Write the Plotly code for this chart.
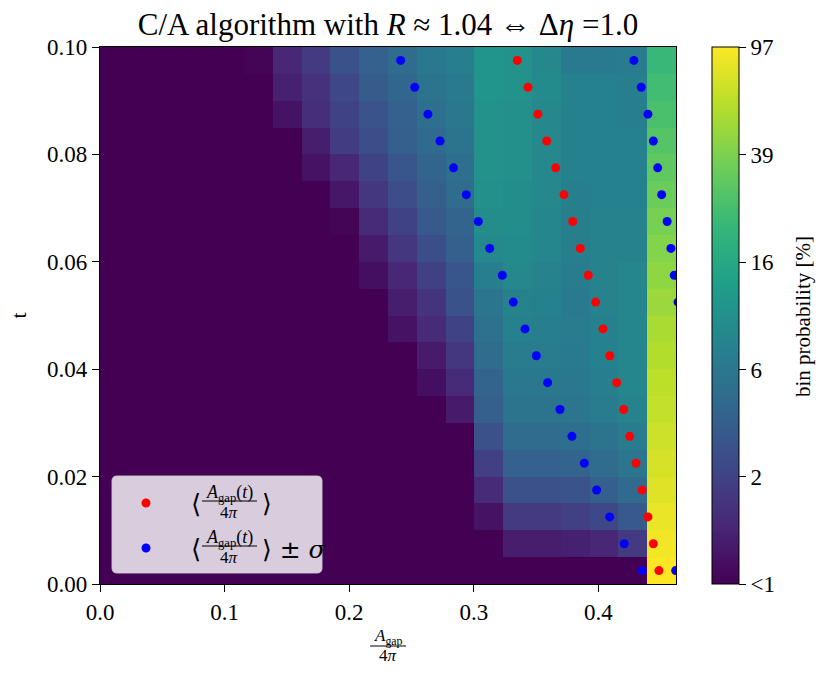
import math
import plotly.graph_objects as go

# ---------------- data ----------------
# area axis: 20 bins from 0 to x_max ; time axis: 20 bins of 0.005
x_max = 0.4623
n_xbins = 20
t_step = 0.005
n_tbins = 20

# bin probability in percent, one list per time row (t bin), 20 area bins each
# 0 means "< 1 %"
p_t00 = [0, 0, 0, 0, 0, 0, 0, 0, 0, 0, 0, 0, 0, 0, 0, 0, 0, 0, 0, 97.0]
p_t01 = [0, 0, 0, 0, 0, 0, 0, 0, 0, 0, 0, 0, 0, 0, 1.44, 1.44, 1.51, 1.65, 2.18, 90.5]
p_t02 = [0, 0, 0, 0, 0, 0, 0, 0, 0, 0, 0, 0, 0, 1.26, 2.18, 2.18, 2.39, 2.73, 3.60, 84.5]
p_t03 = [0, 0, 0, 0, 0, 0, 0, 0, 0, 0, 0, 0, 0, 1.73, 3.14, 3.14, 3.28, 3.95, 4.74, 78.6]
p_t04 = [0, 0, 0, 0, 0, 0, 0, 0, 0, 0, 0, 0, 0, 2.39, 4.13, 4.13, 4.32, 4.96, 5.95, 73.4]
p_t05 = [0, 0, 0, 0, 0, 0, 0, 0, 0, 0, 0, 0, 0, 3.14, 4.96, 4.96, 5.19, 5.69, 6.83, 68.8]
p_t06 = [0, 0, 0, 0, 0, 0, 0, 0, 0, 0, 0, 0, 1.38, 3.95, 5.69, 5.69, 5.95, 6.83, 7.83, 64.2]
p_t07 = [0, 0, 0, 0, 0, 0, 0, 0, 0, 0, 0, 1.20, 1.73, 4.32, 6.23, 6.23, 6.23, 7.15, 8.20, 61.3]
p_t08 = [0, 0, 0, 0, 0, 0, 0, 0, 0, 0, 0, 1.38, 2.08, 4.96, 6.83, 6.83, 6.52, 7.48, 8.20, 57.3]
p_t09 = [0, 0, 0, 0, 0, 0, 0, 0, 0, 0, 1.26, 1.73, 2.50, 5.43, 7.48, 7.15, 6.83, 7.48, 8.20, 53.4]
p_t10 = [0, 0, 0, 0, 0, 0, 0, 0, 0, 0, 1.44, 1.99, 3.14, 5.95, 7.83, 7.48, 6.52, 7.83, 8.20, 48.9]
p_t11 = [0, 0, 0, 0, 0, 0, 0, 0, 0, 1.20, 1.65, 2.39, 3.44, 7.15, 8.58, 7.83, 6.83, 7.83, 8.20, 44.6]
p_t12 = [0, 0, 0, 0, 0, 0, 0, 0, 0, 1.38, 2.08, 3.00, 3.95, 8.58, 8.98, 8.20, 7.15, 7.83, 7.83, 40.7]
p_t13 = [0, 0, 0, 0, 0, 0, 0, 0, 1.05, 1.73, 2.50, 3.60, 4.32, 9.40, 9.40, 8.20, 7.15, 7.83, 7.83, 37.1]
p_t14 = [0, 0, 0, 0, 0, 0, 0, 0, 1.32, 2.08, 3.00, 3.95, 4.96, 9.84, 9.40, 8.58, 7.15, 7.48, 7.48, 33.9]
p_t15 = [0, 0, 0, 0, 0, 0, 0, 1.26, 1.65, 2.50, 3.44, 4.32, 5.19, 10.3, 9.84, 8.58, 7.48, 7.48, 7.48, 30.9]
p_t16 = [0, 0, 0, 0, 0, 0, 0, 1.44, 2.28, 3.00, 3.95, 4.74, 5.69, 10.3, 9.84, 8.58, 7.48, 7.48, 7.48, 28.2]
p_t17 = [0, 0, 0, 0, 0, 0, 1.26, 1.81, 2.50, 3.28, 4.13, 5.19, 6.23, 10.3, 9.84, 8.58, 7.48, 7.48, 7.15, 25.7]
p_t18 = [0, 0, 0, 0, 0, 0, 1.51, 1.90, 2.73, 3.77, 4.52, 5.69, 6.52, 10.8, 10.3, 8.98, 7.48, 7.48, 7.15, 23.5]
p_t19 = [0, 0, 0, 0, 0, 1.05, 1.65, 2.18, 3.14, 4.13, 4.96, 6.23, 7.15, 10.8, 10.3, 8.58, 6.52, 6.52, 6.83, 21.4]

# mean gap area and its standard deviation at every time-bin centre
t_centers = [0.0025, 0.0075, 0.0125, 0.0175, 0.0225, 0.0275, 0.0325, 0.0375, 0.0425, 0.0475,
             0.0525, 0.0575, 0.0625, 0.0675, 0.0725, 0.0775, 0.0825, 0.0875, 0.0925, 0.0975]
mean_area = [0.4486, 0.4441, 0.4398, 0.4352, 0.4302, 0.4251, 0.4203, 0.4147, 0.4091, 0.4037,
             0.3978, 0.3919, 0.3855, 0.3794, 0.3724, 0.3657, 0.3585, 0.3515, 0.3435, 0.3349]
sigma_area = [0.0134, 0.0233, 0.0307, 0.0366, 0.0415, 0.0463, 0.0511, 0.0554, 0.0589, 0.0626,
              0.0661, 0.0690, 0.0727, 0.0758, 0.0784, 0.0819, 0.0856, 0.0883, 0.0909, 0.0936]

# colour bar ticks (percent) and their labels
cb_tick_pct = [1.0, 2.49, 6.21, 15.5, 38.8, 97.0]
cb_tick_text = ["<1", "2", "6", "16", "39", "97"]
p_max = 97.0

x_tick_vals = [0.0, 0.1, 0.2, 0.3, 0.4]
x_tick_text = ["0.0", "0.1", "0.2", "0.3", "0.4"]
y_tick_vals = [0.0, 0.02, 0.04, 0.06, 0.08, 0.10]
y_tick_text = ["0.00", "0.02", "0.04", "0.06", "0.08", "0.10"]

# ---------------- figure ----------------
rows = [p_t00, p_t01, p_t02, p_t03, p_t04, p_t05, p_t06, p_t07, p_t08, p_t09,
        p_t10, p_t11, p_t12, p_t13, p_t14, p_t15, p_t16, p_t17, p_t18, p_t19]
z = [[math.log10(max(v, 1.0)) for v in row] for row in rows]
x_edges = [i * x_max / n_xbins for i in range(n_xbins + 1)]
t_edges = [j * t_step for j in range(n_tbins + 1)]

W, H = 830, 674
L, R, T, B = 100, 676, 47, 584
FONT = "Liberation Serif"


def px2x(px):
    return (px - L) / (R - L)


def px2y(py):
    return (B - py) / (B - T)


fig = go.Figure()
fig.add_trace(go.Heatmap(
    x=x_edges, y=t_edges, z=z,
    zmin=0, zmax=math.log10(p_max),
    colorscale="Viridis",
    hoverinfo="skip",
    colorbar=dict(
        thickness=27, thicknessmode="pixels",
        len=1, lenmode="fraction",
        x=px2x(712), xanchor="left", xpad=0,
        y=0.5, yanchor="middle", ypad=0,
        outlinewidth=1, outlinecolor="black",
        ticks="outside", ticklen=7, tickwidth=1, tickcolor="black",
        tickvals=[math.log10(v) for v in cb_tick_pct],
        ticktext=cb_tick_text,
        tickfont=dict(family=FONT, size=23, color="black"),
    ),
))

fig.add_trace(go.Scatter(
    x=mean_area, y=t_centers, mode="markers",
    marker=dict(color="red", size=9, line=dict(width=0)),
    cliponaxis=True, showlegend=False, name="mean",
))
blue_x = [m - s for m, s in zip(mean_area, sigma_area)] + [m + s for m, s in zip(mean_area, sigma_area)]
blue_y = t_centers + t_centers
fig.add_trace(go.Scatter(
    x=blue_x, y=blue_y, mode="markers",
    marker=dict(color="blue", size=9, line=dict(width=0)),
    cliponaxis=True, showlegend=False, name="mean ± sigma",
))

axis_common = dict(
    showline=True, linecolor="black", linewidth=1.2, mirror=True,
    ticks="outside", ticklen=7, tickwidth=1.2, tickcolor="black",
    showgrid=False, zeroline=False,
    tickfont=dict(family=FONT, size=23, color="black"),
)
fig.update_xaxes(range=[0, x_max], tickvals=x_tick_vals, ticktext=x_tick_text, **axis_common)
fig.update_yaxes(range=[0, 0.1], tickvals=y_tick_vals, ticktext=y_tick_text,
                 title=dict(text="t", font=dict(family=FONT, size=22, color="black"), standoff=14),
                 **axis_common)

shapes = []
annotations = []

# colour-bar title
annotations.append(dict(xref="paper", yref="paper", x=px2x(803), y=px2y(317),
                        text="bin probability [%]", textangle=-90, showarrow=False,
                        font=dict(family=FONT, size=21, color="black"),
                        xanchor="center", yanchor="middle"))

# x-axis title as a stacked fraction
annotations.append(dict(xref="paper", yref="paper", x=px2x(388), y=px2y(637),
                        text="<i>A</i><sub>gap</sub>", showarrow=False,
                        font=dict(family=FONT, size=17, color="black"),
                        xanchor="center", yanchor="middle"))
shapes.append(dict(type="line", xref="paper", yref="paper",
                   x0=px2x(370), x1=px2x(406), y0=px2y(646), y1=px2y(646),
                   line=dict(color="black", width=1)))
annotations.append(dict(xref="paper", yref="paper", x=px2x(388), y=px2y(655),
                        text="4<i>π</i>", showarrow=False,
                        font=dict(family=FONT, size=17, color="black"),
                        xanchor="center", yanchor="middle"))

# legend box (rounded)
bx0, bx1, by0, by1, rr = 112, 322, 476, 573, 5
path = (f"M {px2x(bx0 + rr)},{px2y(by0)} L {px2x(bx1 - rr)},{px2y(by0)} "
        f"Q {px2x(bx1)},{px2y(by0)} {px2x(bx1)},{px2y(by0 + rr)} "
        f"L {px2x(bx1)},{px2y(by1 - rr)} Q {px2x(bx1)},{px2y(by1)} {px2x(bx1 - rr)},{px2y(by1)} "
        f"L {px2x(bx0 + rr)},{px2y(by1)} Q {px2x(bx0)},{px2y(by1)} {px2x(bx0)},{px2y(by1 - rr)} "
        f"L {px2x(bx0)},{px2y(by0 + rr)} Q {px2x(bx0)},{px2y(by0)} {px2x(bx0 + rr)},{px2y(by0)} Z")
shapes.append(dict(type="path", xref="paper", yref="paper", path=path,
                   fillcolor="rgba(255,255,255,0.8)", line=dict(color="rgba(204,204,204,0.9)", width=1),
                   layer="above"))

for cy, col, extra in [(503, "red", ""), (548, "blue", " ± <i>σ</i>")]:
    rad = 4.5
    shapes.append(dict(type="circle", xref="paper", yref="paper",
                       x0=px2x(146 - rad), x1=px2x(146 + rad),
                       y0=px2y(cy + rad), y1=px2y(cy - rad),
                       fillcolor=col, line=dict(width=0), layer="above"))
    annotations.append(dict(xref="paper", yref="paper", x=px2x(196), y=px2y(cy + 1),
                            text="⟨", showarrow=False,
                            font=dict(family="DejaVu Serif", size=26, color="black"),
                            xanchor="center", yanchor="middle"))
    annotations.append(dict(xref="paper", yref="paper", x=px2x(229), y=px2y(cy - 10),
                            text="<i>A</i><sub>gap</sub>(<i>t</i>)", showarrow=False,
                            font=dict(family=FONT, size=18, color="black"),
                            xanchor="center", yanchor="middle"))
    shapes.append(dict(type="line", xref="paper", yref="paper",
                       x0=px2x(202), x1=px2x(257), y0=px2y(cy - 2), y1=px2y(cy - 2),
                       line=dict(color="black", width=1), layer="above"))
    annotations.append(dict(xref="paper", yref="paper", x=px2x(229), y=px2y(cy + 9),
                            text="4<i>π</i>", showarrow=False,
                            font=dict(family=FONT, size=17, color="black"),
                            xanchor="center", yanchor="middle"))
    annotations.append(dict(xref="paper", yref="paper", x=px2x(260), y=px2y(cy + 1),
                            text="⟩" + extra, showarrow=False,
                            font=dict(family="DejaVu Serif", size=25, color="black"),
                            xanchor="left", yanchor="middle"))

fig.update_layout(
    width=W, height=H, autosize=False,
    margin=dict(l=L, r=W - R, t=T, b=H - B, pad=0),
    paper_bgcolor="white", plot_bgcolor="white",
    title=dict(text="C/A algorithm with <i>R</i> ≈ 1.04 ⇔ Δ<i>η</i> =1.0",
               x=px2x(388), xref="paper", xanchor="center",
               y=1 - 24 / H, yref="container", yanchor="middle",
               font=dict(family=FONT, size=31, color="black")),
    shapes=shapes, annotations=annotations,
    showlegend=False,
)

fig.write_html("out.html", config={"displayModeBar": False},
               post_script="document.body.style.margin='0px';document.body.style.overflow='hidden';")
